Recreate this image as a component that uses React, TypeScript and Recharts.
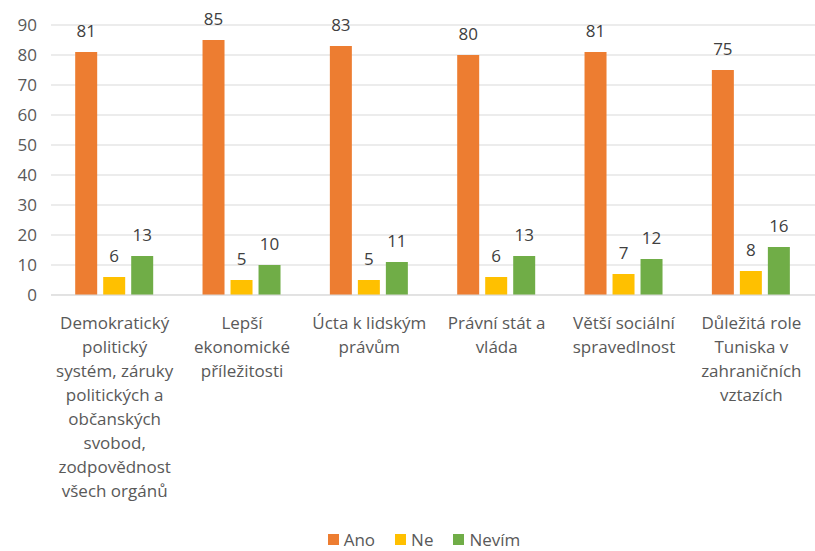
import React from 'react';
import { BarChart, Bar, XAxis, YAxis, CartesianGrid, Legend, LabelList } from 'recharts';

const categories = [
  'Demokratický\npolitický\nsystém, záruky\npolitických a\nobčanských\nsvobod,\nzodpovědnost\nvšech orgánů',
  'Lepší\nekonomické\npříležitosti',
  'Úcta k lidským\nprávům',
  'Právní stát a\nvláda',
  'Větší sociální\nspravedlnost',
  'Důležitá role\nTuniska v\nzahraničních\nvztazích',
];
const ano = [81, 85, 83, 80, 81, 75];
const ne = [6, 5, 5, 6, 7, 8];
const nevim = [13, 10, 11, 13, 12, 16];
const yTicks = [0, 10, 20, 30, 40, 50, 60, 70, 80, 90];

const data = categories.map((c, i) => ({ name: c, ano: ano[i], ne: ne[i], nevim: nevim[i] }));

const FONT = '"Open Sans", sans-serif';

const CategoryTick = (props: any) => {
  const { x, y, payload } = props;
  const lines = String(payload.value).split('\n');
  return (
    <text x={x} y={y} textAnchor="middle" fill="#595959" fontSize={17} fontFamily={FONT}>
      {lines.map((l, i) => (
        <tspan key={i} x={x} dy={i === 0 ? 26 : 24}>
          {l}
        </tspan>
      ))}
    </text>
  );
};

const LegendBox = (props: any) => {
  const { payload } = props;
  return (
    <div
      style={{
        height: 23,
        display: 'flex',
        justifyContent: 'center',
        alignItems: 'center',
        paddingLeft: 53,
        fontFamily: FONT,
        fontSize: 17,
        color: '#595959',
      }}
    >
      {(payload || []).map((p: any) => (
        <div key={p.value} style={{ display: 'flex', alignItems: 'center', marginRight: 20 }}>
          <span style={{ width: 11, height: 11, background: p.color, marginRight: 5, display: 'inline-block' }} />
          <span>{p.value}</span>
        </div>
      ))}
    </div>
  );
};

const App: React.FC = () => {
  return (
    <div style={{ width: 815, height: 551 }}>
      <style>{`body{margin:0}`}</style>
      <BarChart
        width={815}
        height={551}
        data={data}
        margin={{ top: 25, right: 0, left: 0, bottom: 0 }}
        barCategoryGap="19%"
        barGap={6}
      >
        <CartesianGrid vertical={false} stroke="#d9d9d9" />
        <XAxis
          dataKey="name"
          axisLine={{ stroke: '#d9d9d9' }}
          tickLine={false}
          interval={0}
          height={233}
          tick={<CategoryTick />}
        />
        <YAxis
          width={51}
          domain={[0, 90]}
          ticks={yTicks}
          axisLine={false}
          tickLine={false}
          tickMargin={8}
          tick={{ fill: '#595959', fontSize: 17, fontFamily: FONT }}
        />
        <Legend verticalAlign="bottom" content={<LegendBox />} />
        <Bar dataKey="ano" name="Ano" fill="#ED7D31" isAnimationActive={false}>
          <LabelList dataKey="ano" position="top" offset={15} fill="#404040" fontSize={17} fontFamily={FONT} />
        </Bar>
        <Bar dataKey="ne" name="Ne" fill="#FFC000" isAnimationActive={false}>
          <LabelList dataKey="ne" position="top" offset={15} fill="#404040" fontSize={17} fontFamily={FONT} />
        </Bar>
        <Bar dataKey="nevim" name="Nevím" fill="#70AD47" isAnimationActive={false}>
          <LabelList dataKey="nevim" position="top" offset={15} fill="#404040" fontSize={17} fontFamily={FONT} />
        </Bar>
      </BarChart>
    </div>
  );
};

export default App;
